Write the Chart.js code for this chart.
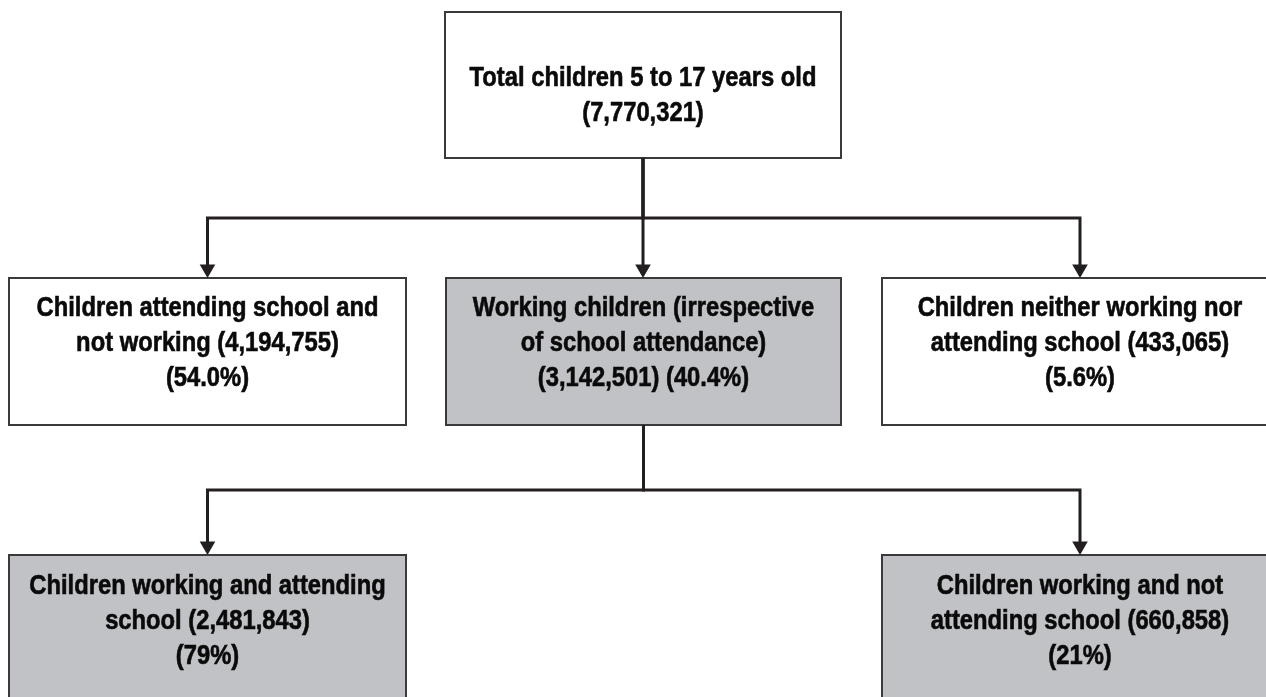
<!DOCTYPE html>
<html>
<head>
<meta charset="utf-8">
<script src="https://cdn.jsdelivr.net/npm/chart.js@4.4.0/dist/chart.umd.min.js"></script>
<style>
    html, body { margin: 0; padding: 0; background: #ffffff; }
    #wrap { width: 1266px; height: 697px; }
</style>
</head>
<body>
<div id="wrap"><canvas id="flowChart" width="1266" height="697"></canvas></div>
<script>
// Données du schéma
const nodeLabels = [
    'Total children 5 to 17 years old',
    'Children attending school and not working',
    'Working children (irrespective of school attendance)',
    'Children neither working nor attending school',
    'Children working and attending school',
    'Children working and not attending school'
];
const nodeCounts = [7770321, 4194755, 3142501, 433065, 2481843, 660858];
const nodePercents = [null, '54.0%', '40.4%', '5.6%', '79%', '21%'];
const nodeParents = [null, 0, 0, 0, 2, 2];
const nodeShaded = [false, false, true, false, true, true];

// Mise en page (pixels de la page)
const boxLeft = [445, 9, 446, 882, 9, 882];
const boxRight = [841, 406, 841, 1278, 406, 1278];
const boxTop = [12, 278, 278, 278, 555, 555];
const boxBottom = [158, 425, 425, 425, 720, 720];
const firstBaseline = [86, 316, 316, 316, 594, 594];
const wordsPerLine = [[7, 1], [4, 3, 1], [3, 3, 2], [4, 3, 1], [4, 2, 1], [4, 3, 1]];
const busY = { 0: 218, 2: 490 };
const lineHeight = 35;
const arrowR = 9;
const inkColor = '#231f20';
const narrow = 0.88; // police étroite simulée (Arial Narrow)

function centerX(i) {
    return (boxLeft[i] + boxRight[i]) / 2;
}

function nodeLines(i) {
    let text = nodeLabels[i] + ' (' + nodeCounts[i].toLocaleString('en-US') + ')';
    if (nodePercents[i]) text += ' (' + nodePercents[i] + ')';
    const words = text.split(' ');
    const lines = [];
    let k = 0;
    wordsPerLine[i].forEach(n => {
        lines.push(words.slice(k, k + n).join(' '));
        k += n;
    });
    return lines;
}

// Connecteurs (coudes + flèche)
const connectors = [];
nodeParents.forEach((p, i) => {
    if (p === null) return;
    const px = centerX(p);
    const cx = i === 2 ? px : centerX(i);
    connectors.push({
        type: 'line',
        data: [
            { x: px, y: boxBottom[p] },
            { x: px, y: busY[p] },
            { x: cx, y: busY[p] },
            { x: cx, y: boxTop[i] - arrowR }
        ],
        showLine: true,
        borderColor: inkColor,
        borderWidth: 3,
        tension: 0,
        pointStyle: 'triangle',
        pointRotation: 180,
        pointRadius: [0, 0, 0, arrowR],
        pointBackgroundColor: inkColor,
        pointBorderWidth: 0,
        clip: false
    });
});

// Boîtes et textes
const boxPlugin = {
    id: 'boxes',
    beforeDatasetsDraw(chart) {
        const ctx = chart.ctx;
        const xs = chart.scales.x;
        const ys = chart.scales.y;
        ctx.save();
        nodeLabels.forEach((label, i) => {
            const x1 = xs.getPixelForValue(boxLeft[i]);
            const x2 = xs.getPixelForValue(boxRight[i]);
            const y1 = ys.getPixelForValue(boxTop[i]);
            const y2 = ys.getPixelForValue(boxBottom[i]);
            ctx.fillStyle = nodeShaded[i] ? '#c1c2c6' : '#ffffff';
            ctx.fillRect(x1, y1, x2 - x1, y2 - y1);
            ctx.lineWidth = 2;
            ctx.strokeStyle = '#3a3a3a';
            ctx.strokeRect(x1, y1, x2 - x1, y2 - y1);

            ctx.fillStyle = '#0a0a0a';
            ctx.strokeStyle = '#0a0a0a';
            ctx.lineWidth = 0.6;
            ctx.font = 'bold 27px "Liberation Sans", Arial, sans-serif';
            ctx.textAlign = 'center';
            ctx.textBaseline = 'alphabetic';
            const tx = xs.getPixelForValue(centerX(i));
            nodeLines(i).forEach((line, j) => {
                ctx.save();
                ctx.translate(tx, ys.getPixelForValue(firstBaseline[i] + j * lineHeight));
                ctx.scale(narrow, 1);
                ctx.fillText(line, 0, 0);
                ctx.strokeText(line, 0, 0);
                ctx.restore();
            });
        });
        ctx.restore();
    }
};

new Chart(document.getElementById('flowChart'), {
    type: 'scatter',
    data: { datasets: connectors },
    options: {
        responsive: false,
        animation: false,
        devicePixelRatio: 1,
        events: [],
        layout: { padding: 0, autoPadding: false },
        plugins: {
            legend: { display: false },
            tooltip: { enabled: false }
        },
        scales: {
            x: { type: 'linear', min: 0, max: 1266, display: false },
            y: { type: 'linear', min: 0, max: 697, reverse: true, display: false }
        }
    },
    plugins: [boxPlugin]
});
</script>
</body>
</html>
